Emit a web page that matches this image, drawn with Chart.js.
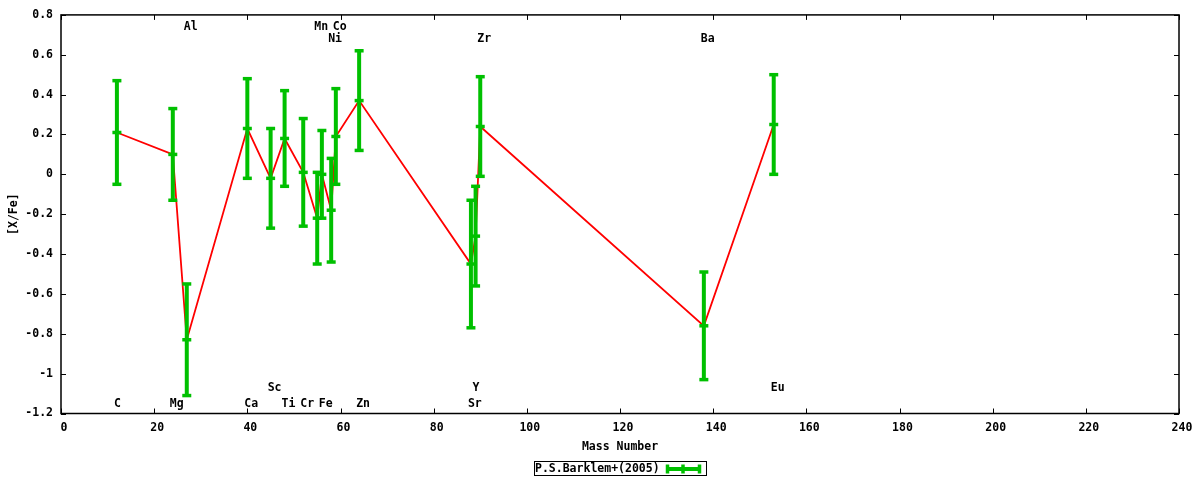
<!DOCTYPE html>
<html>
<head>
<meta charset="utf-8">
<script src="https://cdn.jsdelivr.net/npm/chart.js@4.4.0/dist/chart.umd.min.js"></script>
<style>
html, body { margin: 0; padding: 0; background: #fff; }
#wrap { width: 1200px; height: 480px; position: relative; }
</style>
</head>
<body>
<div id="wrap"><canvas id="c"></canvas></div>
<script>
// [X/Fe] vs mass number, P.S.Barklem+(2005)
const elements   = ['C', 'Mg', 'Al', 'Ca', 'Sc', 'Ti', 'Cr', 'Mn', 'Fe', 'Ni', 'Co', 'Zn', 'Sr', 'Y', 'Zr', 'Ba', 'Eu'];
const massNumber = [12, 24, 27, 40, 45, 48, 52, 55, 56, 58, 59, 64, 88, 89, 90, 138, 153];
const xFe        = [0.21, 0.10, -0.83, 0.23, -0.02, 0.18, 0.01, -0.22, 0.00, -0.18, 0.19, 0.37, -0.45, -0.31, 0.24, -0.76, 0.25];
const xFeErr     = [0.26, 0.23, 0.28, 0.25, 0.25, 0.24, 0.27, 0.23, 0.22, 0.26, 0.24, 0.25, 0.32, 0.25, 0.25, 0.27, 0.25];
// height (in [X/Fe] units) where each element name is written
const labelY     = [-1.15, -1.15, 0.74, -1.15, -1.07, -1.15, -1.15, 0.74, -1.15, 0.68, 0.74, -1.15, -1.15, -1.07, 0.68, 0.68, -1.07];

const xTicks = {min: 0, max: 240, step: 20};
const yTicks = {min: -1.2, max: 0.8, step: 0.2};
const seriesName = 'P.S.Barklem+(2005)';

const FONT = "'DejaVu Sans Mono', monospace";
const GREEN = '#00c000';
const RED = '#ff0000';

function drawErrBar(ctx, px, yt, yc, yb) {
    ctx.lineWidth = 4;
    ctx.beginPath();
    ctx.moveTo(px, yt); ctx.lineTo(px, yb);
    ctx.stroke();
    ctx.lineWidth = 3.5;
    [yt, yc, yb].forEach(yy => {
        ctx.beginPath();
        ctx.moveTo(px - 4.5, yy); ctx.lineTo(px + 4.5, yy);
        ctx.stroke();
    });
}

const gnuplotLook = {
    id: 'gnuplotLook',
    afterDatasetsDraw(chart) {
        const {ctx, scales: {x, y}} = chart;
        ctx.save();
        // error bars on top of the red line
        ctx.strokeStyle = GREEN;
        massNumber.forEach((m, i) => {
            drawErrBar(ctx, x.getPixelForValue(m),
                y.getPixelForValue(xFe[i] + xFeErr[i]),
                y.getPixelForValue(xFe[i]),
                y.getPixelForValue(xFe[i] - xFeErr[i]));
        });
        // element names
        ctx.fillStyle = '#000';
        ctx.font = 'bold 11.5px ' + FONT;
        ctx.textAlign = 'left';
        ctx.textBaseline = 'middle';
        elements.forEach((el, i) => {
            ctx.fillText(el, x.getPixelForValue(massNumber[i]) - 3, y.getPixelForValue(labelY[i]));
        });
        ctx.restore();
    },
    afterDraw(chart) {
        const {ctx, chartArea: a, scales: {x, y}} = chart;
        ctx.save();
        // frame
        ctx.strokeStyle = '#000';
        ctx.lineWidth = 1.5;
        ctx.strokeRect(a.left, a.top, a.right - a.left, a.bottom - a.top);
        // inward ticks on all four sides
        ctx.lineWidth = 1;
        ctx.beginPath();
        for (let v = xTicks.min; v <= xTicks.max; v += xTicks.step) {
            const px = Math.round(x.getPixelForValue(v)) + 0.5;
            ctx.moveTo(px, a.bottom); ctx.lineTo(px, a.bottom - 5);
            ctx.moveTo(px, a.top); ctx.lineTo(px, a.top + 5);
        }
        for (let k = 0; k <= 10; k++) {
            const py = Math.round(y.getPixelForValue(yTicks.min + k * yTicks.step)) + 0.5;
            ctx.moveTo(a.left, py); ctx.lineTo(a.left + 5, py);
            ctx.moveTo(a.right, py); ctx.lineTo(a.right - 5, py);
        }
        ctx.stroke();

        // legend box
        const lx = 534.5, ly = 461.5, lw = 172, lh = 14, ymid = 469;
        ctx.strokeRect(lx, ly, lw, lh);
        ctx.fillStyle = '#000';
        ctx.font = 'bold 11.5px ' + FONT;
        ctx.textAlign = 'left';
        ctx.textBaseline = 'middle';
        ctx.fillText(seriesName, 535, ymid);
        ctx.strokeStyle = GREEN;
        ctx.lineWidth = 4;
        ctx.beginPath();
        ctx.moveTo(666, ymid); ctx.lineTo(701, ymid);
        ctx.stroke();
        ctx.lineWidth = 3.5;
        [667.5, 683, 699.5].forEach(cx => {
            ctx.beginPath();
            ctx.moveTo(cx, ymid - 4.5); ctx.lineTo(cx, ymid + 4.5);
            ctx.stroke();
        });
        ctx.restore();
    }
};

const tickFont = {family: FONT, size: 11.5, weight: 'bold'};

new Chart(document.getElementById('c'), {
    type: 'scatter',
    data: {
        datasets: [{
            label: seriesName,
            data: massNumber.map((m, i) => ({x: m, y: xFe[i]})),
            showLine: true,
            borderColor: RED,
            borderWidth: 1.8,
            pointRadius: 0,
            tension: 0
        }]
    },
    options: {
        responsive: true, maintainAspectRatio: false, animation: false,
        layout: {padding: {left: 0, right: 21, top: 13.5, bottom: 0}},
        plugins: {legend: {display: false}, tooltip: {enabled: false}},
        scales: {
            x: {
                type: 'linear', min: xTicks.min, max: xTicks.max,
                grid: {display: false, drawTicks: false}, border: {display: false},
                ticks: {stepSize: xTicks.step, padding: 8, labelOffset: 3, color: '#000', font: tickFont, maxRotation: 0},
                title: {display: true, text: 'Mass Number', color: '#000', font: tickFont, padding: {top: 0, bottom: 26}},
                afterFit: s => { s.height = 66.5; }
            },
            y: {
                type: 'linear', min: yTicks.min, max: yTicks.max,
                grid: {display: false, drawTicks: false}, border: {display: false},
                ticks: {stepSize: yTicks.step, padding: 8, color: '#000', font: tickFont,
                        callback: v => Number(v.toFixed(1)).toString()},
                title: {display: true, text: '[X/Fe]', color: '#000', font: tickFont, padding: {top: 7.5, bottom: 0}},
                afterFit: s => { s.width = 61; }
            }
        }
    },
    plugins: [gnuplotLook]
});
</script>
</body>
</html>
